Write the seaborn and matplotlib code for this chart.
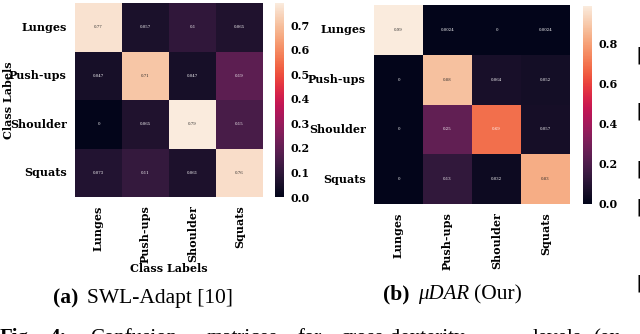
import numpy as np
import matplotlib
matplotlib.use("Agg")
import matplotlib.pyplot as plt
import seaborn as sns

# 데이터
classes = ["Lunges", "Push-ups", "Shoulder", "Squats"]

swl_lunges = [0.77, 0.057, 0.1, 0.065]
swl_pushups = [0.047, 0.71, 0.047, 0.19]
swl_shoulder = [0.0, 0.065, 0.79, 0.15]
swl_squats = [0.073, 0.11, 0.061, 0.76]

mudar_lunges = [0.99, 0.0024, 0.0, 0.0024]
mudar_pushups = [0.0, 0.88, 0.064, 0.052]
mudar_shoulder = [0.0, 0.25, 0.69, 0.057]
mudar_squats = [0.0, 0.13, 0.032, 0.83]

W, H = 640, 334


def px_rect(x0, y0, x1, y1):
    return [x0 / W, 1 - y1 / H, (x1 - x0) / W, (y1 - y0) / H]


def draw_cm(fig, rows, ax_box, cb_box, cb_ticks, show_labels):
    cm = np.array(rows)
    ax = fig.add_axes(px_rect(*ax_box))
    cax = fig.add_axes(px_rect(*cb_box))
    sns.heatmap(cm, ax=ax, cbar_ax=cax, cmap="rocket", vmin=0,
                annot=True, fmt=".2g", annot_kws={"size": 2.8},
                xticklabels=classes, yticklabels=classes, square=False)
    ax.tick_params(length=0, pad=6)
    plt.setp(ax.get_xticklabels(), rotation=90, fontweight="bold", fontsize=8)
    plt.setp(ax.get_yticklabels(), rotation=0, fontweight="bold", fontsize=8)
    cax.set_yticks(cb_ticks)
    cax.set_yticklabels([f"{t:.1f}" for t in cb_ticks])
    cax.tick_params(length=0, pad=5, labelsize=8)
    plt.setp(cax.get_yticklabels(), fontweight="bold")
    if show_labels:
        ax.set_xlabel("Class Labels", fontweight="bold", fontsize=8, labelpad=0)
        ax.set_ylabel("Class Labels", fontweight="bold", fontsize=8)
        ax.yaxis.set_label_coords(-0.325, 0.5)
    return ax


plt.rcParams["font.family"] = ["DejaVu Serif"]

fig = plt.figure(figsize=(6.4, 3.34), dpi=100)

draw_cm(fig, [swl_lunges, swl_pushups, swl_shoulder, swl_squats],
        (75, 3, 263, 197), (275, 3, 284, 197),
        [0.0, 0.1, 0.2, 0.3, 0.4, 0.5, 0.6, 0.7], True)
draw_cm(fig, [mudar_lunges, mudar_pushups, mudar_shoulder, mudar_squats],
        (374, 5, 570, 204), (583, 6, 592, 204),
        [0.0, 0.2, 0.4, 0.6, 0.8], False)

# 캡션
serif = "Liberation Serif"


def ptext(x, y, s, **kw):
    fig.text(x / W, 1 - y / H, s, family=serif, **kw)


ptext(53, 303, "(a)", fontsize=15.5, fontweight="bold")
ptext(87, 303, "SWL-Adapt [10]", fontsize=15.5)
ptext(383, 299, "(b)", fontsize=15.5, fontweight="bold")
ptext(418, 299, "μDAR", fontsize=15, style="italic")
ptext(474, 299, "(Our)", fontsize=15.5)

# 아래쪽 잘린 본문 줄
words = [(0, "Fig.", True), (50, "4:", True), (90, "Confusion", False),
         (207, "matrices", False), (297, "for", False),
         (340, "cross-dexterity", False), (533, "levels", False),
         (593, "(ex-", False)]
for x, w, b in words:
    ptext(x, 343, w, fontsize=15, fontweight="bold" if b else "normal")

for y in [60, 116, 174, 212, 288]:
    ptext(636, y, "[", fontsize=15)

fig.savefig("out.png", dpi=100)
